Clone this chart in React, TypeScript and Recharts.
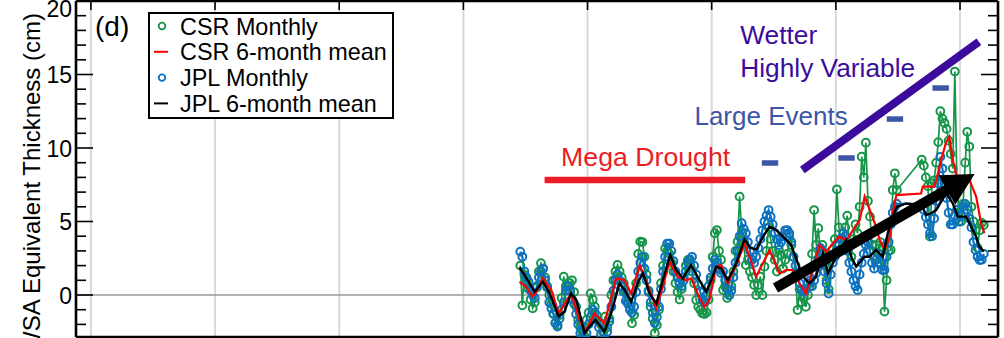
import React from 'react';
import {
  ComposedChart,
  Line,
  XAxis,
  YAxis,
  CartesianGrid,
  ReferenceLine,
  ReferenceDot,
} from 'recharts';

const FONT = '"Liberation Sans", Arial, Helvetica, sans-serif';

// ---- data -------------------------------------------------------------
// Monthly TWSA anomalies (cm), one row per year (Jan..Dec); null = no solution
const YEARS = [2002, 2003, 2004, 2005, 2006, 2007, 2008, 2009, 2010, 2011, 2012, 2013, 2014, 2015, 2016, 2017, 2018, 2019, 2020];

const CSR_MONTHLY: (number | null)[][] = [
  [null, null, null, 2.0, -0.7, 1.36, 1.0, 0.4, -0.3, -0.9, -0.5, 0.5],
  [1.6, 2.16, 1.8, 1.2, 0.6, 0.0, -0.6, -1.3, -1.9, -2.04, -1.36, -0.2],
  [1.25, 0.6, 0.3, 0.8, 1.0, 0.2, -0.8, -1.7, -2.2, -2.5, -2.8, -1.7],
  [-1.2, 0.11, -0.3, -0.8, -1.4, -1.8, -2.0, -2.5, -1.47, -2.2, -1.6, 0.0],
  [1.0, 1.6, 2.04, 1.6, 1.2, 0.8, 0.2, -0.4, -0.9, -1.93, -1.36, 0.8],
  [2.8, 3.63, 3.6, 2.6, 1.4, 0.3, -0.8, -1.6, -2.6, -2.04, -1.0, 0.8],
  [2.0, 3.17, 3.0, 2.8, 2.2, 1.6, 0.8, 0.2, -0.3, 0.4, 1.2, 2.0],
  [2.38, 2.0, 1.6, 0.8, -0.34, -0.8, -1.0, -1.25, -1.3, -1.2, -0.3, 1.0],
  [2.6, 4.2, 4.42, 3.0, 2.4, 0.34, 0.6, -0.2, 0.0, 0.6, 1.6, 3.0],
  [3.63, 6.69, 4.2, 3.4, 2.04, 2.4, 1.6, 1.2, 0.68, 0.0, 0.68, 1.25],
  [0.0, 1.93, 3.0, 4.6, 3.8, 3.0, 2.4, 1.6, 3.06, 2.72, 1.8, 2.4],
  [2.8, 3.97, 3.4, 2.6, 1.4, -1.02, 0.4, -0.5, -0.2, -0.8, 0.0, 0.6],
  [2.8, 5.78, 3.4, 4.54, 3.0, 3.4, 2.0, 1.0, 0.4, 2.6, 3.06, 3.8],
  [7.19, 4.6, 3.8, 3.4, 4.6, 5.4, 3.4, 2.6, 3.8, 4.8, 4.2, 6.0],
  [9.41, 8.0, 10.36, 6.4, 5.33, 3.4, 2.6, 3.4, 2.2, 3.6, 3.29, -1.13],
  [1.0, 3.0, 3.06, 7.14, 8.28, 7.14, null, null, null, null, null, null],
  [null, null, null, null, null, 9.2, 8.8, 8.0, 7.4, 3.97, 7.6, 7.8],
  [9.0, 10.4, 12.5, 12.0, 11.7, 11.3, 10.5, 9.6, 8.6, 15.2, 7.6, 5.6],
  [5.0, 6.2, 9.0, 11.1, 10.1, 6.0, 5.0, 4.42, 3.2, 4.4, 4.9, 4.76],
];

const JPL_MONTHLY: (number | null)[][] = [
  [null, null, null, 2.95, 2.6, 1.6, 1.2, 0.9, 0.3, 0.0, -0.2, 0.6],
  [1.2, 1.6, 1.8, 1.0, 0.5, -0.5, -0.9, -1.25, -1.9, -2.15, -1.6, -1.0],
  [-0.5, 0.3, 0.6, 0.3, -0.3, -0.6, -1.3, -2.0, -2.6, -2.9, -3.0, -2.6],
  [-2.0, -1.5, -1.0, -1.2, -1.7, -2.2, -2.7, -3.0, -3.0, -2.5, -1.8, -0.8],
  [0.3, 1.0, 1.4, 1.0, 0.6, 0.2, -0.4, -0.6, -1.0, -1.2, -0.8, 0.2],
  [1.6, 2.2, 2.6, 1.8, 1.0, 0.2, -0.5, -1.2, -1.9, -1.5, -0.8, 0.4],
  [1.6, 2.6, 3.5, 3.5, 3.0, 2.3, 1.6, 1.2, 0.8, 0.6, 1.0, 1.6],
  [2.2, 2.4, 2.6, 2.0, 1.4, 0.7, 0.2, -0.3, -0.5, 0.0, 0.6, 1.2],
  [1.8, 2.4, 2.2, 1.8, 1.5, 1.6, 1.0, 0.4, 0.0, 0.3, 1.2, 2.2],
  [3.0, 4.0, 4.88, 4.5, 4.2, 3.6, 3.0, 2.4, 2.2, 2.6, 3.2, 3.8],
  [4.4, 5.0, 5.4, 5.78, 5.33, 4.8, 4.2, 3.8, 3.4, 3.6, 4.0, 4.4],
  [4.42, 4.2, 3.6, 2.6, 2.0, 1.4, 0.8, 0.34, 0.2, 0.4, 0.8, 1.0],
  [0.6, 1.0, 1.5, 2.4, 3.2, 3.0, 1.6, 0.8, 0.1, 1.4, 2.2, 2.6],
  [3.0, 3.4, 3.8, 4.2, 4.0, 3.0, 2.2, 1.6, 1.0, 0.6, 0.34, 1.4],
  [2.2, 2.8, 3.4, 3.6, 3.0, 2.2, 1.8, 2.4, 2.8, 2.2, 1.7, 1.7],
  [2.6, 3.6, 4.8, 5.6, 6.0, 6.2, null, null, null, null, null, null],
  [null, null, null, null, null, 6.2, 5.8, 5.3, 4.8, 4.2, 4.0, 5.2],
  [6.4, 7.6, 9.4, 8.6, 7.6, 6.6, 5.6, 4.8, 4.8, 5.4, 5.8, 5.0],
  [5.4, 6.0, 6.2, 5.8, 5.2, 4.6, 3.6, 3.06, 2.6, 2.38, 2.4, 2.8],
];

// 6-month running means (decimal year, cm)
const CSR_MEAN_T = [
  2002.26, 2002.53, 2002.78, 2002.94, 2003.2, 2003.54, 2003.84, 2004.34, 2004.68, 2004.92,
  2005.28, 2005.68, 2006.15, 2006.49, 2006.76, 2007.1, 2007.5, 2007.77, 2008.03, 2008.3,
  2008.63, 2008.97, 2009.17, 2009.51, 2009.71, 2009.91, 2010.18, 2010.38, 2010.65, 2010.99,
  2011.32, 2011.55, 2011.79, 2012.13, 2012.33, 2012.53, 2012.73, 2013.0, 2013.27, 2013.53,
  2013.8, 2014.07, 2014.34, 2014.61, 2014.88, 2015.14, 2015.42, 2015.69, 2015.96, 2016.16,
  2016.37, 2016.57, 2016.77, 2016.97, 2017.17, 2017.31, 2017.44, 2018.43, 2018.5, 2018.97,
  2019.11, 2019.24, 2019.44, 2019.57, 2019.71, 2019.85, 2020.38, 2020.65, 2020.85, 2020.98,
];
const CSR_MEAN_V = [
  0.9, 0.56, -0.1, 0.2, 1.13, 0.34, -1.25, 0.11, -1.7, -2.5,
  -1.25, -1.93, 1.13, 1.0, 0.1, 2.0, 0.34, -0.9, 0.56, 2.27,
  1.25, 1.0, 1.13, -0.2, -0.8, -0.34, 1.93, 2.04, 0.8, 2.04,
  3.5, 2.5, 1.25, 2.38, 3.06, 2.27, 1.47, 1.7, 1.7, 0.8,
  0.11, 1.7, 3.4, 2.95, 3.52, 3.97, 3.74, 4.42, 5.1, 6.69,
  5.78, 4.88, 3.74, 3.06, 3.97, 5.78, 6.8, 6.9, 7.37, 7.37,
  8.28, 9.18, 10.4, 10.77, 9.18, 8.16, 7.82, 6.69, 4.88, 4.2,
];

const JPL_MEAN_T = [
  2002.26, 2002.46, 2002.87, 2003.2, 2003.47, 2003.84, 2004.07, 2004.34, 2004.55, 2004.88,
  2005.08, 2005.32, 2005.68, 2005.95, 2006.29, 2006.49, 2006.76, 2007.07, 2007.23, 2007.5,
  2007.77, 2008.03, 2008.33, 2008.57, 2008.84, 2009.17, 2009.51, 2009.78, 2009.98, 2010.18,
  2010.38, 2010.65, 2010.99, 2011.32, 2011.55, 2011.8, 2012.07, 2012.33, 2012.6, 2012.87,
  2013.2, 2013.47, 2013.67, 2013.94, 2014.2, 2014.48, 2014.68, 2015.02, 2015.42, 2015.62,
  2015.82, 2016.15, 2016.35, 2016.62, 2016.89, 2017.09, 2017.29, 2017.46, 2017.83, 2018.45,
  2018.64, 2018.84, 2019.04, 2019.44, 2019.71, 2019.91, 2020.25, 2020.45, 2020.65, 2020.78,
  2020.96,
];
const JPL_MEAN_V = [
  1.88, 1.36, 0.22, 0.9, 0.13, -1.47, -1.13, 0.11, -0.34, -2.6,
  -2.15, -1.7, -2.5, -1.25, 0.8, 0.34, -0.45, 1.0, 1.47, 0.1,
  -0.57, 1.0, 2.72, 1.7, 1.13, 2.04, 1.0, 0.22, 1.0, 1.93,
  1.8, 1.0, 2.16, 3.8, 3.2, 3.1, 3.97, 4.65, 4.42, 3.97,
  3.4, 2.16, 1.25, 0.8, 1.25, 2.83, 1.47, 2.6, 3.74, 2.6,
  1.93, 2.6, 2.6, 3.06, 2.6, 4.2, 5.33, 6.0, 6.23, 6.1,
  5.44, 5.56, 5.78, 6.92, 6.23, 5.33, 5.33, 4.65, 3.97, 3.29,
  2.95,
];

// axis ranges and tick values
const X_DOMAIN: [number, number] = [1984.4, 2021.53];
const Y_DOMAIN: [number, number] = [-2.857, 20];
const X_TICKS = [1985, 1990, 1995, 2000, 2005, 2010, 2015, 2020];
const Y_TICKS = [-2, -1, 0, 1, 2, 3, 4, 5, 6, 7, 8, 9, 10, 11, 12, 13, 14, 15, 16, 17, 18, 19, 20];

// annotation anchors (decimal year, cm)
const DROUGHT_BAR = [{ x: 2003.27, y: 7.82 }, { x: 2011.35, y: 7.82 }];
const DROUGHT_LABEL = { x: 2007.34, y: 8.78 };
const EVENT_MARKS = [
  { x: 2012.35, y: 8.98 },
  { x: 2015.43, y: 9.32 },
  { x: 2017.38, y: 11.97 },
  { x: 2019.22, y: 14.08 },
];
const EVENT_HALF_WIDTH = 0.33;
const EVENTS_LABEL = { x: 2012.39, y: 11.56 };
const WETTER_LABEL = { x: 2011.15, y: 17.05 };
const VARIABLE_LABEL = { x: 2011.15, y: 14.85 };
const WETTER_LINE = [{ x: 2013.65, y: 8.5 }, { x: 2020.76, y: 17.23 }];
const TREND_ARROW = [{ x: 2012.57, y: 0.48 }, { x: 2020.59, y: 8.23 }];

// ---- styling ----------------------------------------------------------
const W = 1004;
const H = 338;
const PLOT_LEFT = 76;
const PLOT_RIGHT = 998;
const PLOT_TOP = 1;

const GREEN = '#17964a';
const BLUE = '#0c72c0';
const RED = '#ff0000';
const DROUGHT_RED = '#ec1c24';
const EVENT_BLUE = '#3c55a7';
const PURPLE = '#3b0c9c';

const toSeries = (rows: (number | null)[][]) => {
  const out: { t: number; v: number }[] = [];
  rows.forEach((row, i) => {
    row.forEach((v, m) => {
      if (v !== null) out.push({ t: YEARS[i] + (m + 0.5) / 12, v });
    });
  });
  return out;
};
const zip = (ts: number[], vs: number[]) => ts.map((t, i) => ({ t, v: vs[i] }));

const csrMonthly = toSeries(CSR_MONTHLY);
const jplMonthly = toSeries(JPL_MONTHLY);
const csrMean = zip(CSR_MEAN_T, CSR_MEAN_V);
const jplMean = zip(JPL_MEAN_T, JPL_MEAN_V);

const LeftTick = (props: any) => {
  const { y, payload } = props;
  const v = payload.value as number;
  const major = v % 5 === 0;
  return (
    <g>
      <line x1={PLOT_LEFT} x2={PLOT_LEFT + (major ? 17 : 10)} y1={y} y2={y} stroke="#000" strokeWidth={1.6} />
      {major && (
        <text x={PLOT_LEFT - 4} y={v === 20 ? y + 15.5 : y + 8.5} textAnchor="end" fontSize={23} fontFamily={FONT} fill="#000">
          {v}
        </text>
      )}
    </g>
  );
};

const RightTick = (props: any) => {
  const { y, payload } = props;
  const major = (payload.value as number) % 5 === 0;
  return <line x1={PLOT_RIGHT} x2={PLOT_RIGHT - (major ? 17 : 10)} y1={y} y2={y} stroke="#000" strokeWidth={1.6} />;
};

const TopTick = (props: any) => {
  const { x } = props;
  return <line x1={x} x2={x} y1={PLOT_TOP} y2={PLOT_TOP + 9} stroke="#000" strokeWidth={1.6} />;
};

const textAt = (label: string, color: string, size: number, anchor: 'start' | 'middle' | 'end') => (p: any) => (
  <text x={p.cx} y={p.cy} fill={color} fontSize={size} fontFamily={FONT} textAnchor={anchor}>
    {label}
  </text>
);

const ArrowShape = (p: any) => {
  const { x1, y1, x2, y2 } = p;
  if ([x1, y1, x2, y2].some((n) => typeof n !== 'number' || isNaN(n))) return null;
  const dx = x2 - x1;
  const dy = y2 - y1;
  const len = Math.hypot(dx, dy);
  const ux = dx / len;
  const uy = dy / len;
  const nx = -uy;
  const ny = ux;
  const headLen = 32;
  const headHalf = 17;
  const bx = x2 - ux * headLen;
  const by = y2 - uy * headLen;
  return (
    <g>
      <line x1={x1} y1={y1} x2={bx + ux * 2} y2={by + uy * 2} stroke="#000" strokeWidth={10.5} />
      <polygon
        points={`${x2},${y2} ${bx + nx * headHalf},${by + ny * headHalf} ${bx - nx * headHalf},${by - ny * headHalf}`}
        fill="#000"
      />
    </g>
  );
};

const LEGEND_ROWS = [
  { label: 'CSR Monthly', color: GREEN, kind: 'dot' },
  { label: 'CSR 6-month mean', color: RED, kind: 'line' },
  { label: 'JPL Monthly', color: BLUE, kind: 'dot' },
  { label: 'JPL 6-month mean', color: '#000', kind: 'line' },
];

const Overlay = () => (
  <svg width={W} height={H} style={{ position: 'absolute', left: 0, top: 0, pointerEvents: 'none' }}>
    <text
      transform="translate(40,13) rotate(-90)"
      textAnchor="end"
      fontSize={24}
      fontFamily={FONT}
      fill="#000"
    >
      TWSA Equivalent Thickness (cm)
    </text>
    <text x={95} y={36} fontSize={28} fontFamily={FONT} fill="#000">
      (d)
    </text>
    <rect x={149} y={13} width={244} height={105} fill="#fff" stroke="#000" strokeWidth={2} />
    {LEGEND_ROWS.map((r, i) => {
      const base = 34.5 + i * 25.8;
      const cy = base - 8.5;
      return (
        <g key={r.label}>
          {r.kind === 'dot' ? (
            <circle cx={162} cy={cy} r={3.3} fill="none" stroke={r.color} strokeWidth={1.8} />
          ) : (
            <line x1={154} x2={168} y1={cy} y2={cy} stroke={r.color} strokeWidth={2} />
          )}
          <text x={180} y={base} fontSize={23.4} fontFamily={FONT} fill="#000">
            {r.label}
          </text>
        </g>
      );
    })}
  </svg>
);

export default function App() {
  return (
    <div style={{ position: 'absolute', left: 0, top: 0, width: W, height: H, background: '#fff' }}>
      <ComposedChart width={W} height={H} margin={{ top: 0, right: 0, bottom: 0, left: 0 }}>
        <XAxis
          xAxisId="t"
          type="number"
          dataKey="t"
          orientation="top"
          domain={X_DOMAIN}
          allowDataOverflow
          ticks={X_TICKS}
          interval={0}
          height={1}
          tickLine={false}
          tick={<TopTick />}
          axisLine={{ stroke: '#000', strokeWidth: 2.6 }}
        />
        <XAxis
          xAxisId="b"
          type="number"
          dataKey="t"
          orientation="bottom"
          domain={X_DOMAIN}
          allowDataOverflow
          height={1}
          tick={false}
          tickLine={false}
          axisLine={{ stroke: '#000', strokeWidth: 2.6 }}
        />
        <YAxis
          yAxisId="l"
          type="number"
          orientation="left"
          domain={Y_DOMAIN}
          allowDataOverflow
          ticks={Y_TICKS}
          interval={0}
          width={PLOT_LEFT}
          tickLine={false}
          tick={<LeftTick />}
          axisLine={{ stroke: '#000', strokeWidth: 2.6 }}
        />
        <YAxis
          yAxisId="r"
          type="number"
          orientation="right"
          domain={Y_DOMAIN}
          allowDataOverflow
          ticks={Y_TICKS}
          interval={0}
          width={W - PLOT_RIGHT}
          tickLine={false}
          tick={<RightTick />}
          axisLine={{ stroke: '#000', strokeWidth: 2.6 }}
        />
        <CartesianGrid xAxisId="t" yAxisId="l" horizontal={false} stroke="#d9d9d9" strokeWidth={2} />
        <ReferenceLine xAxisId="t" yAxisId="l" y={0} stroke="#9a9a9a" strokeWidth={1.6} />

        <Line
          xAxisId="t"
          yAxisId="l"
          data={csrMonthly}
          dataKey="v"
          type="linear"
          stroke={GREEN}
          strokeWidth={1.7}
          dot={{ r: 3.9, stroke: GREEN, strokeWidth: 2, fill: 'none' }}
          isAnimationActive={false}
        />
        <Line
          xAxisId="t"
          yAxisId="l"
          data={jplMonthly}
          dataKey="v"
          type="linear"
          stroke={BLUE}
          strokeWidth={2.2}
          dot={{ r: 3.9, stroke: BLUE, strokeWidth: 2, fill: 'none' }}
          isAnimationActive={false}
        />
        <Line
          xAxisId="t"
          yAxisId="l"
          data={csrMean}
          dataKey="v"
          type="linear"
          stroke={RED}
          strokeWidth={2.2}
          dot={false}
          zIndex={700}
          isAnimationActive={false}
        />
        <Line
          xAxisId="t"
          yAxisId="l"
          data={jplMean}
          dataKey="v"
          type="linear"
          stroke="#000"
          strokeWidth={2.4}
          dot={false}
          zIndex={710}
          isAnimationActive={false}
        />

        {/* annotations */}
        <ReferenceLine xAxisId="t" yAxisId="l" segment={DROUGHT_BAR} stroke={DROUGHT_RED} strokeWidth={6.5} zIndex={800} />
        <ReferenceDot xAxisId="t" yAxisId="l" x={DROUGHT_LABEL.x} y={DROUGHT_LABEL.y} r={0} shape={textAt('Mega Drought', DROUGHT_RED, 26.7, 'middle')} zIndex={800} />
        {EVENT_MARKS.map((m, i) => (
          <ReferenceLine
            key={i}
            xAxisId="t"
            yAxisId="l"
            segment={[{ x: m.x - EVENT_HALF_WIDTH, y: m.y }, { x: m.x + EVENT_HALF_WIDTH, y: m.y }]}
            stroke={EVENT_BLUE}
            strokeWidth={5.5}
            zIndex={800}
          />
        ))}
        <ReferenceDot xAxisId="t" yAxisId="l" x={EVENTS_LABEL.x} y={EVENTS_LABEL.y} r={0} shape={textAt('Large Events', EVENT_BLUE, 26, 'middle')} zIndex={800} />
        <ReferenceLine xAxisId="t" yAxisId="l" segment={WETTER_LINE} stroke={PURPLE} strokeWidth={8} zIndex={800} />
        <ReferenceDot xAxisId="t" yAxisId="l" x={WETTER_LABEL.x} y={WETTER_LABEL.y} r={0} shape={textAt('Wetter', PURPLE, 26.3, 'start')} zIndex={800} />
        <ReferenceDot xAxisId="t" yAxisId="l" x={VARIABLE_LABEL.x} y={VARIABLE_LABEL.y} r={0} shape={textAt('Highly Variable', PURPLE, 26.3, 'start')} zIndex={800} />
        <ReferenceLine xAxisId="t" yAxisId="l" segment={TREND_ARROW} shape={<ArrowShape />} zIndex={900} />
      </ComposedChart>
      <Overlay />
    </div>
  );
}
